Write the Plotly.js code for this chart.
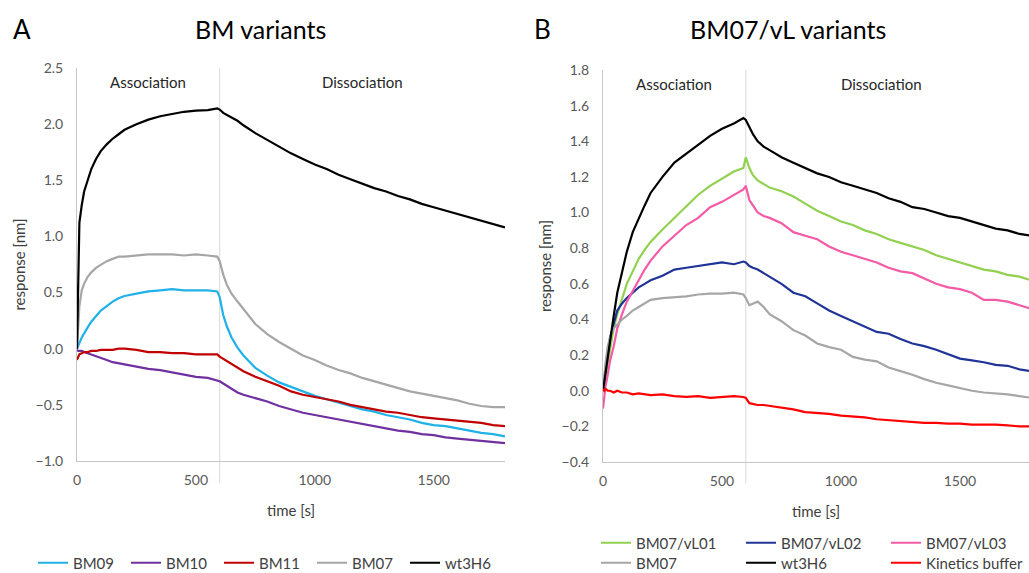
<!DOCTYPE html>
<html>
<head>
<meta charset="utf-8">
<script src="https://cdn.plot.ly/plotly-3.0.1.min.js"></script>
<style>html,body{margin:0;padding:0;background:#fff;}#chart{width:1029px;height:573px;}</style>
</head>
<body>
<div id="chart"></div>
<script>
// Shared time grid (s)
const timeS = [0, 5, 10, 20, 30, 45, 60, 80, 100, 125, 150, 175, 200, 250, 300, 350, 400, 450, 500, 550, 590, 600, 615, 630, 650, 675, 700, 750, 800, 850, 900, 950, 1000, 1050, 1100, 1150, 1200, 1250, 1300, 1350, 1400, 1450, 1500, 1550, 1600, 1650, 1700, 1750, 1800];

// Panel A: BM variants (response, nm)
const bm09 = [0.00, 0.02, 0.05, 0.10, 0.14, 0.19, 0.24, 0.29, 0.34, 0.38, 0.42, 0.45, 0.47, 0.49, 0.51, 0.52, 0.53, 0.52, 0.52, 0.52, 0.51, 0.46, 0.30, 0.20, 0.10, 0.01, -0.06, -0.17, -0.24, -0.30, -0.34, -0.38, -0.42, -0.45, -0.48, -0.51, -0.54, -0.56, -0.59, -0.61, -0.63, -0.66, -0.68, -0.69, -0.71, -0.73, -0.75, -0.76, -0.78];
const bm10 = [-0.01, -0.02, -0.02, -0.02, -0.03, -0.04, -0.05, -0.07, -0.08, -0.10, -0.12, -0.13, -0.14, -0.16, -0.18, -0.19, -0.21, -0.23, -0.25, -0.26, -0.28, -0.29, -0.31, -0.33, -0.36, -0.39, -0.41, -0.44, -0.47, -0.51, -0.54, -0.57, -0.59, -0.61, -0.63, -0.65, -0.67, -0.69, -0.71, -0.73, -0.74, -0.76, -0.77, -0.79, -0.80, -0.81, -0.82, -0.83, -0.84];
const bm11 = [-0.10, -0.07, -0.05, -0.04, -0.03, -0.03, -0.02, -0.02, -0.01, -0.01, -0.01, 0.00, 0.00, -0.01, -0.03, -0.03, -0.04, -0.04, -0.05, -0.05, -0.05, -0.07, -0.09, -0.11, -0.14, -0.17, -0.20, -0.25, -0.29, -0.33, -0.38, -0.41, -0.43, -0.45, -0.47, -0.50, -0.52, -0.54, -0.56, -0.57, -0.59, -0.61, -0.62, -0.63, -0.64, -0.65, -0.66, -0.68, -0.69];
const bm07A = [0.00, 0.20, 0.38, 0.52, 0.58, 0.64, 0.68, 0.72, 0.75, 0.78, 0.80, 0.82, 0.82, 0.83, 0.84, 0.84, 0.84, 0.83, 0.84, 0.83, 0.82, 0.78, 0.66, 0.57, 0.49, 0.42, 0.35, 0.22, 0.13, 0.06, 0.00, -0.06, -0.10, -0.15, -0.19, -0.22, -0.26, -0.29, -0.32, -0.35, -0.38, -0.40, -0.42, -0.44, -0.46, -0.49, -0.51, -0.52, -0.52];
const wtA = [0.00, 0.75, 1.12, 1.28, 1.40, 1.50, 1.60, 1.69, 1.76, 1.82, 1.87, 1.91, 1.95, 2.00, 2.04, 2.07, 2.09, 2.11, 2.12, 2.125, 2.14, 2.13, 2.10, 2.08, 2.06, 2.03, 1.99, 1.92, 1.86, 1.80, 1.74, 1.69, 1.64, 1.60, 1.55, 1.51, 1.47, 1.43, 1.40, 1.36, 1.33, 1.29, 1.26, 1.23, 1.20, 1.17, 1.14, 1.11, 1.08];

// Panel B: BM07/vL variants (response, nm)
const vL01 = [0.00, 0.04, 0.08, 0.16, 0.24, 0.35, 0.43, 0.52, 0.60, 0.67, 0.74, 0.79, 0.835, 0.905, 0.97, 1.04, 1.10, 1.15, 1.19, 1.23, 1.25, 1.31, 1.25, 1.21, 1.18, 1.16, 1.14, 1.12, 1.09, 1.05, 1.01, 0.98, 0.95, 0.93, 0.90, 0.88, 0.85, 0.83, 0.81, 0.79, 0.76, 0.74, 0.72, 0.70, 0.68, 0.67, 0.65, 0.64, 0.62];
const vL02 = [0.00, 0.06, 0.12, 0.22, 0.30, 0.38, 0.45, 0.49, 0.52, 0.55, 0.58, 0.60, 0.62, 0.645, 0.68, 0.69, 0.70, 0.71, 0.72, 0.71, 0.725, 0.72, 0.70, 0.69, 0.68, 0.66, 0.64, 0.60, 0.55, 0.53, 0.49, 0.45, 0.42, 0.39, 0.36, 0.33, 0.32, 0.29, 0.265, 0.25, 0.23, 0.205, 0.18, 0.17, 0.16, 0.145, 0.14, 0.12, 0.11];
const vL03 = [-0.10, -0.04, 0.02, 0.09, 0.17, 0.25, 0.35, 0.43, 0.50, 0.56, 0.62, 0.68, 0.73, 0.81, 0.87, 0.93, 0.97, 1.03, 1.06, 1.10, 1.13, 1.15, 1.07, 1.04, 1.00, 0.98, 0.97, 0.94, 0.89, 0.87, 0.85, 0.81, 0.78, 0.76, 0.74, 0.72, 0.69, 0.67, 0.66, 0.63, 0.60, 0.58, 0.57, 0.55, 0.51, 0.51, 0.50, 0.48, 0.46];
const bm07B = [0.00, 0.08, 0.15, 0.25, 0.30, 0.35, 0.37, 0.40, 0.42, 0.45, 0.47, 0.49, 0.51, 0.52, 0.525, 0.53, 0.54, 0.545, 0.545, 0.55, 0.54, 0.52, 0.48, 0.49, 0.50, 0.47, 0.43, 0.39, 0.34, 0.31, 0.265, 0.245, 0.23, 0.19, 0.175, 0.165, 0.13, 0.11, 0.09, 0.065, 0.045, 0.03, 0.015, 0.00, -0.01, -0.015, -0.02, -0.03, -0.04];
const wtB = [0.00, 0.05, 0.10, 0.20, 0.29, 0.42, 0.55, 0.67, 0.78, 0.89, 0.97, 1.04, 1.11, 1.20, 1.28, 1.33, 1.38, 1.43, 1.47, 1.50, 1.53, 1.52, 1.48, 1.44, 1.40, 1.37, 1.35, 1.31, 1.28, 1.25, 1.22, 1.20, 1.17, 1.15, 1.13, 1.11, 1.08, 1.06, 1.03, 1.02, 1.00, 0.98, 0.97, 0.95, 0.93, 0.91, 0.90, 0.88, 0.87];
const kinBuf = [0.01, 0.00, 0.01, 0.00, 0.00, -0.01, 0.00, -0.01, -0.01, -0.02, -0.015, -0.02, -0.025, -0.02, -0.03, -0.035, -0.03, -0.04, -0.035, -0.03, -0.035, -0.04, -0.07, -0.075, -0.08, -0.08, -0.085, -0.095, -0.105, -0.12, -0.125, -0.13, -0.14, -0.145, -0.15, -0.16, -0.165, -0.17, -0.175, -0.18, -0.18, -0.185, -0.185, -0.19, -0.19, -0.19, -0.195, -0.20, -0.20];

const seriesA = [
  {name: 'BM09', y: bm09, color: '#1fb1e8'},
  {name: 'BM10', y: bm10, color: '#7030a0'},
  {name: 'BM11', y: bm11, color: '#c00000'},
  {name: 'BM07', y: bm07A, color: '#a6a6a6'},
  {name: 'wt3H6', y: wtA, color: '#000000'}
];
const seriesB = [
  {name: 'BM07/vL01', y: vL01, color: '#92d050', legend: 'legend2'},
  {name: 'BM07/vL02', y: vL02, color: '#1f3496', legend: 'legend2'},
  {name: 'BM07/vL03', y: vL03, color: '#f45ba6', legend: 'legend2'},
  {name: 'BM07', y: bm07B, color: '#a6a6a6', legend: 'legend3'},
  {name: 'wt3H6', y: wtB, color: '#000000', legend: 'legend3'},
  {name: 'Kinetics buffer', y: kinBuf, color: '#ff0000', legend: 'legend3'}
];

const traces = [];
seriesA.forEach(s => traces.push({
  type: 'scatter', mode: 'lines', x: timeS, y: s.y, name: s.name,
  line: {color: s.color, width: 2.2}, xaxis: 'x', yaxis: 'y', legend: 'legend'
}));
seriesB.forEach(s => traces.push({
  type: 'scatter', mode: 'lines', x: timeS, y: s.y, name: s.name,
  line: {color: s.color, width: 2.2}, xaxis: 'x2', yaxis: 'y2', legend: s.legend
}));

const W = 1029, H = 573;
const px = v => v / W;
const py = v => 1 - v / H;
const tickFont = {family: 'Lato, sans-serif', size: 14, color: '#595959'};
const titleFont = {family: 'Lato, sans-serif', size: 15, color: '#404040'};
const axisCommon = {
  showgrid: false, zeroline: false, showline: true, linecolor: '#c6c6c6', linewidth: 1,
  ticks: '', tickfont: tickFont, fixedrange: true
};
const legendCommon = {
  orientation: 'h', xanchor: 'left', yanchor: 'middle', bgcolor: 'rgba(0,0,0,0)',
  font: {family: 'Lato, sans-serif', size: 15, color: '#404040'}, traceorder: 'normal'
};

const layout = {
  width: W, height: H,
  margin: {l: 0, r: 0, t: 0, b: 0, autoexpand: false},
  paper_bgcolor: '#ffffff', plot_bgcolor: '#ffffff',
  font: {family: 'Lato, sans-serif', color: '#404040'},
  showlegend: true,
  xaxis: Object.assign({}, axisCommon, {
    domain: [px(77), px(505)], range: [0, 1800], tickvals: [0, 500, 1000, 1500], anchor: 'y',
    ticklabelstandoff: 6,
    title: {text: 'time [s]', font: titleFont, standoff: 18}
  }),
  yaxis: Object.assign({}, axisCommon, {
    domain: [py(461), py(68)], range: [-1, 2.5], dtick: 0.5, tick0: 0, tickformat: '.1f', anchor: 'x',
    ticklabelstandoff: 10,
    title: {text: 'response [nm]', font: titleFont, standoff: 6}
  }),
  xaxis2: Object.assign({}, axisCommon, {
    domain: [px(603), 1], range: [0, 1790], tickvals: [0, 500, 1000, 1500], anchor: 'y2',
    ticklabelstandoff: 6,
    title: {text: 'time [s]', font: titleFont, standoff: 18}
  }),
  yaxis2: Object.assign({}, axisCommon, {
    domain: [py(462), py(70)], range: [-0.4, 1.8], dtick: 0.2, tick0: 0, tickformat: '.1f', anchor: 'x2',
    ticklabelstandoff: 10,
    title: {text: 'response [nm]', font: titleFont, standoff: 6}
  }),
  legend: Object.assign({}, legendCommon, {x: px(33), y: py(563), entrywidth: 48}),
  legend2: Object.assign({}, legendCommon, {x: px(596), y: py(543), entrywidth: 100}),
  legend3: Object.assign({}, legendCommon, {x: px(596), y: py(563), entrywidth: 100}),
  shapes: [
    {type: 'line', xref: 'x', yref: 'y domain', x0: 600, x1: 600, y0: -0.056, y1: 1,
     line: {color: '#d9d9d9', width: 1}, layer: 'below'},
    {type: 'line', xref: 'x2', yref: 'y2 domain', x0: 600, x1: 600, y0: -0.054, y1: 1,
     line: {color: '#d9d9d9', width: 1}, layer: 'below'}
  ],
  annotations: [
    {text: 'A', xref: 'paper', yref: 'paper', x: px(22), y: py(29), showarrow: false,
     font: {family: 'Lato, sans-serif', size: 26, color: '#000'}, xanchor: 'center', yanchor: 'middle'},
    {text: 'BM variants', xref: 'paper', yref: 'paper', x: px(260), y: py(29), showarrow: false,
     font: {family: 'Lato, sans-serif', size: 25, color: '#000'}, xanchor: 'center', yanchor: 'middle'},
    {text: 'B', xref: 'paper', yref: 'paper', x: px(542), y: py(29), showarrow: false,
     font: {family: 'Lato, sans-serif', size: 26, color: '#000'}, xanchor: 'center', yanchor: 'middle'},
    {text: 'BM07/vL variants', xref: 'paper', yref: 'paper', x: px(788), y: py(29), showarrow: false,
     font: {family: 'Lato, sans-serif', size: 25, color: '#000'}, xanchor: 'center', yanchor: 'middle'},
    {text: 'Association', xref: 'x', yref: 'paper', x: 300, y: py(82), showarrow: false,
     font: {family: 'Lato, sans-serif', size: 15, color: '#262626'}, xanchor: 'center', yanchor: 'middle'},
    {text: 'Dissociation', xref: 'x', yref: 'paper', x: 1200, y: py(82), showarrow: false,
     font: {family: 'Lato, sans-serif', size: 15, color: '#262626'}, xanchor: 'center', yanchor: 'middle'},
    {text: 'Association', xref: 'x2', yref: 'paper', x: 300, y: py(84), showarrow: false,
     font: {family: 'Lato, sans-serif', size: 15, color: '#262626'}, xanchor: 'center', yanchor: 'middle'},
    {text: 'Dissociation', xref: 'x2', yref: 'paper', x: 1170, y: py(84), showarrow: false,
     font: {family: 'Lato, sans-serif', size: 15, color: '#262626'}, xanchor: 'center', yanchor: 'middle'}
  ]
};

Plotly.newPlot('chart', traces, layout, {staticPlot: true, displayModeBar: false});
</script>
</body>
</html>
